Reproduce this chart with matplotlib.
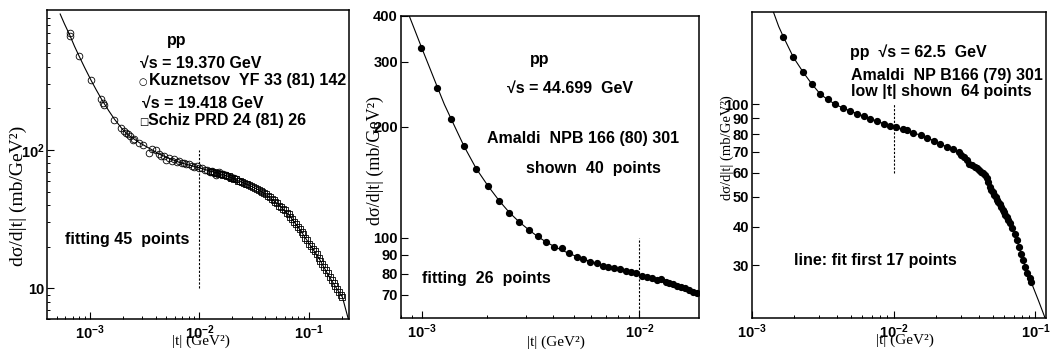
import numpy as np
import matplotlib
matplotlib.use("Agg")
import matplotlib.pyplot as plt
from matplotlib.ticker import LogLocator, NullFormatter, FixedLocator, FixedFormatter

plt.rcParams['font.family'] = ['Liberation Sans', 'DejaVu Sans']
plt.rcParams['mathtext.fontset'] = 'custom'
plt.rcParams['mathtext.rm'] = 'Liberation Sans:bold'
plt.rcParams['mathtext.bf'] = 'Liberation Sans:bold'
plt.rcParams['mathtext.it'] = 'Liberation Sans:bold'

# ---- panel 1 : sqrt(s) = 19.4 GeV ----
kuz_t = [6.6e-4, 6.7e-4, 8.0e-4, 1.03e-3, 1.27e-3, 1.33e-3, 1.36e-3, 1.66e-3, 1.95e-3, 2.05e-3,
         2.15e-3, 2.25e-3, 2.35e-3, 2.48e-3, 2.55e-3, 2.8e-3, 3.05e-3, 3.5e-3, 3.7e-3, 4.05e-3,
         4.3e-3, 4.5e-3, 4.8e-3, 5.0e-3, 5.3e-3, 5.6e-3, 5.9e-3, 6.2e-3, 6.5e-3, 6.9e-3,
         7.3e-3, 7.6e-3, 8.0e-3, 8.5e-3, 9.0e-3, 9.5e-3, 0.0100, 0.0106, 0.0112, 0.0118,
         0.0124, 0.0130, 0.0137, 0.0142, 0.0150, 0.0158, 0.0166, 0.0175, 0.0185, 0.0195,
         0.0205, 0.0218, 0.0230, 0.0245]
kuz_y = [705, 665, 480, 321, 233, 218, 212, 166, 145, 138,
         134, 131, 126, 118, 120, 112, 109, 95, 102, 100,
         94, 90, 91, 85, 88, 84, 86, 82, 83, 80,
         81, 79, 79, 77, 76, 77, 74, 74, 72, 72,
         70, 71, 68, 66, 69, 67, 67, 66, 64, 64,
         63, 62, 60, 59]
schiz_t = [0.0125, 0.0130, 0.0135, 0.0141, 0.0146, 0.0152, 0.0158, 0.0165, 0.0171, 0.0178,
           0.0185, 0.0193, 0.0200, 0.0208, 0.0217, 0.0225, 0.0234, 0.0244, 0.0253, 0.0264,
           0.0274, 0.0285, 0.0297, 0.0309, 0.0321, 0.0334, 0.0347, 0.0361, 0.0375, 0.0390,
           0.0406, 0.0422, 0.0439, 0.0457, 0.0475, 0.0494, 0.0514, 0.0534, 0.0556, 0.0578,
           0.0601, 0.0625, 0.0650, 0.0676, 0.0703, 0.0731, 0.0760, 0.0791, 0.0822, 0.0855,
           0.0889, 0.0925, 0.0962, 0.1000, 0.104, 0.108, 0.112, 0.117, 0.122, 0.127,
           0.132, 0.137, 0.143, 0.148, 0.154, 0.160, 0.167, 0.173, 0.180, 0.187,
           0.194, 0.201]
schiz_y = [70.9, 69.8, 69.6, 68.6, 68.5, 67.5, 67.3, 66.0, 65.9, 64.8,
           64.5, 63.2, 62.9, 61.8, 61.3, 60.0, 59.6, 58.4, 58.0, 56.8,
           56.5, 55.5, 55.2, 54.0, 53.6, 52.2, 51.8, 50.4, 50.0, 48.7,
           48.1, 46.5, 45.7, 44.3, 43.6, 42.1, 41.2, 39.7, 39.0, 37.3,
           36.7, 35.0, 34.4, 32.8, 31.8, 30.1, 29.4, 27.7, 26.9, 25.4,
           24.6, 23.0, 22.3, 21.0, 20.3, 19.4, 18.6, 17.6, 16.7, 15.8,
           15.0, 14.3, 13.5, 12.9, 12.1, 11.5, 10.9, 10.4, 9.9, 9.4,
           9.0, 8.65]
fit1_t = [5.4e-4, 5.9e-4, 6.6e-4, 7.3e-4, 8.0e-4, 9.0e-4, 1.03e-3, 1.15e-3, 1.3e-3, 1.5e-3,
          1.69e-3, 2.0e-3, 2.3e-3, 2.85e-3, 3.51e-3, 4.33e-3, 5.34e-3, 6.58e-3, 8.1e-3, 0.01,
          0.0123, 0.0152, 0.0187, 0.0231, 0.0285, 0.0351, 0.0433, 0.0534, 0.0658, 0.0811,
          0.1, 0.123, 0.152, 0.175, 0.201, 0.2275]
fit1_y = [965, 821, 680, 563, 482, 397, 321, 273, 230, 192,
          167, 141, 127, 113, 103, 93.5, 87, 81.5, 77.9, 74.5,
          70.8, 67.8, 64.1, 59.6, 55.7, 51.3, 45.9, 39.9, 33.8, 27.1,
          21.1, 16.5, 12.2, 10.2, 8.65, 6.0]

# ---- panel 2 : sqrt(s) = 44.699 GeV ----
am44_t = [9.93e-4, 1.18e-3, 1.365e-3, 1.565e-3, 1.78e-3, 2.02e-3, 2.27e-3, 2.53e-3, 2.81e-3, 3.11e-3,
          3.41e-3, 3.72e-3, 4.05e-3, 4.40e-3, 4.75e-3, 5.15e-3, 5.53e-3, 5.93e-3, 6.37e-3, 6.79e-3,
          7.2e-3, 7.68e-3, 8.15e-3, 8.66e-3, 9.16e-3, 9.66e-3, 0.01026, 0.0108, 0.0114, 0.0120,
          0.01259, 0.0132, 0.01375, 0.01434, 0.01495, 0.0156, 0.01627, 0.01698, 0.0177, 0.01846]
am44_y = [327, 255, 209.8, 177, 153.8, 138, 125.7, 116.4, 110.5, 104.9,
          101.1, 97.2, 94.5, 93.6, 91.0, 88.8, 87.6, 86.1, 85.2, 83.9,
          83.4, 82.9, 82.1, 81.3, 80.6, 80.1, 78.9, 78.4, 77.6, 76.8,
          77.1, 76.0, 75.2, 74.8, 74.1, 73.6, 72.9, 72.2, 71.4, 70.7]
fit2_t = [8.68e-4, 9.3e-4, 1.0e-3, 1.09e-3, 1.18e-3, 1.27e-3, 1.365e-3, 1.565e-3, 1.78e-3, 2.02e-3,
          2.27e-3, 2.53e-3, 2.81e-3, 3.11e-3, 3.41e-3, 3.72e-3, 4.05e-3, 4.40e-3, 4.75e-3, 5.15e-3,
          5.53e-3, 5.93e-3, 6.37e-3, 6.79e-3, 7.2e-3, 7.68e-3, 8.15e-3, 8.66e-3, 9.16e-3, 9.66e-3,
          0.0108, 0.0120, 0.0132, 0.0144, 0.0156, 0.0170, 0.0189]
fit2_y = [405, 365, 327, 288, 256, 230, 210, 177, 154, 138,
          126, 117, 110.3, 105.0, 100.8, 97.5, 94.8, 92.6, 90.7, 89.0,
          87.6, 86.3, 85.1, 84.1, 83.3, 82.5, 81.7, 81.0, 80.3, 79.7,
          78.3, 77.0, 75.8, 74.6, 73.5, 72.2, 70.4]

# ---- panel 3 : sqrt(s) = 62.5 GeV ----
am62_t = [1.67e-3, 1.97e-3, 2.31e-3, 2.65e-3, 3.04e-3, 3.44e-3, 3.88e-3, 4.39e-3, 4.95e-3, 5.51e-3,
          6.14e-3, 6.84e-3, 7.63e-3, 8.5e-3, 9.37e-3, 0.0104, 0.0116, 0.0125, 0.0138, 0.0155,
          0.0172, 0.0192, 0.0214, 0.0238, 0.0264, 0.0288, 0.0300, 0.0313, 0.0327, 0.0342,
          0.0357, 0.0372, 0.0388, 0.0400, 0.0414, 0.0427, 0.0440, 0.0452, 0.0464, 0.0475,
          0.0487, 0.0498, 0.0510, 0.0523, 0.0535, 0.0546, 0.0559, 0.0572, 0.0586, 0.0600,
          0.0614, 0.0628, 0.0643, 0.0658, 0.0685, 0.0714, 0.0738, 0.0764, 0.0790, 0.0819,
          0.0848, 0.0878, 0.0910, 0.0936]
am62_y = [166, 142.4, 127.3, 116.7, 108.3, 104.0, 100.0, 97.5, 95.1, 93.3,
          91.4, 89.8, 88.3, 86.5, 84.8, 84.4, 83.1, 82.3, 80.7, 79.3,
          77.9, 76.0, 74.5, 72.7, 71.3, 70.0, 68.6, 67.4, 66.0, 64.2,
          63.4, 62.6, 61.9, 61.1, 60.4, 59.8, 58.8, 57.4, 55.8, 53.9,
          52.8, 51.9, 50.9, 50.0, 49.0, 48.2, 47.3, 46.4, 45.5, 44.7,
          43.8, 43.0, 42.1, 41.2, 39.5, 38.0, 36.2, 34.4, 32.7, 31.2,
          29.6, 28.3, 27.2, 26.5]
fit3_t = [1.42e-3, 1.55e-3, 1.67e-3, 1.82e-3, 1.97e-3, 2.31e-3, 2.65e-3, 3.04e-3, 3.44e-3, 3.88e-3,
          4.39e-3, 4.95e-3, 5.51e-3, 6.14e-3, 6.84e-3, 7.63e-3, 8.5e-3, 9.37e-3, 0.0104, 0.0116,
          0.0125, 0.0138, 0.0155, 0.0172, 0.0192, 0.0214, 0.0238, 0.0264, 0.0288, 0.0313,
          0.0342, 0.0372, 0.0400, 0.0427, 0.0452, 0.0475, 0.0498, 0.0523, 0.0546, 0.0572,
          0.0600, 0.0628, 0.0658, 0.0685, 0.0714, 0.0738, 0.0764, 0.0790, 0.0819, 0.0848,
          0.0878, 0.0910, 0.0936, 0.105, 0.1178]
fit3_y = [200, 179, 166, 153, 142, 127, 116.5, 108, 103.5, 100,
          97.3, 95.1, 93.3, 91.5, 89.8, 88.2, 86.5, 85.0, 84.0, 82.9,
          82.1, 80.8, 79.3, 77.8, 76.1, 74.4, 72.6, 71.0, 69.6, 67.6,
          64.8, 62.6, 61.0, 59.5, 57.3, 54.3, 52.0, 50.0, 48.2, 46.4,
          44.6, 43.0, 41.2, 39.6, 38.0, 36.3, 34.5, 32.8, 31.2, 29.7,
          28.4, 27.2, 26.3, 23.0, 20.0]

cut_t = 0.01
tlabel = '|t| (GeV²)'
ylab = 'dσ/d|t| (mb/GeV²)'

fig = plt.figure(figsize=(10.5, 3.51), dpi=100)
ax1 = fig.add_axes([0.0448, 0.0912, 0.2876, 0.880])
ax2 = fig.add_axes([0.3816, 0.0932, 0.2841, 0.862])
ax3 = fig.add_axes([0.7159, 0.094, 0.2800, 0.8727])

serif = ['Liberation Serif', 'DejaVu Serif']
fs = 11.5


def style(ax, xlim, ylim, xmaj, xlabs, ymaj, ylabs, yminor):
    ax.set_xscale('log')
    ax.set_yscale('log')
    ax.set_xlim(*xlim)
    ax.set_ylim(*ylim)
    ax.xaxis.set_major_locator(FixedLocator(xmaj))
    ax.xaxis.set_major_formatter(FixedFormatter(xlabs))
    ax.xaxis.set_minor_locator(LogLocator(base=10, subs=np.arange(2, 10)))
    ax.xaxis.set_minor_formatter(NullFormatter())
    ax.yaxis.set_major_locator(FixedLocator(ymaj))
    ax.yaxis.set_major_formatter(FixedFormatter(ylabs))
    if yminor:
        ax.yaxis.set_minor_locator(LogLocator(base=10, subs=np.arange(2, 10)))
    else:
        ax.yaxis.set_minor_locator(FixedLocator([]))
    ax.yaxis.set_minor_formatter(NullFormatter())
    ax.tick_params(which='major', direction='in', length=5, width=0.8,
                   labelsize=10.5, top=False, right=False)
    ax.tick_params(which='minor', direction='in', length=2.5, width=0.7,
                   top=False, right=False)
    ax.tick_params(axis='x', pad=3)
    ax.tick_params(axis='y', pad=2)
    for lab in ax.get_xticklabels() + ax.get_yticklabels():
        lab.set_fontweight('bold')
    for sp in ax.spines.values():
        sp.set_linewidth(1.1)


# panel 1
ax1.plot(fit1_t, fit1_y, color='black', lw=0.8)
ax1.plot(kuz_t, kuz_y, 'o', mfc='none', mec='black', ms=4.8, mew=0.6)
ax1.plot(schiz_t, schiz_y, 's', mfc='none', mec='black', ms=4.2, mew=0.6)
ax1.plot([cut_t, cut_t], [10, 100], color='black', lw=0.8, ls=(0, (2, 1.5)))
style(ax1, (4.1e-4, 0.231), (6.0, 1030), [1e-3, 1e-2, 1e-1],
      ['$10^{-3}$', '$10^{-2}$', '$10^{-1}$'], [10, 100], ['10', '$10^{2}$'], True)
tk = dict(transform=ax1.transAxes, fontsize=fs, fontweight='bold', va='center')
ax1.text(0.396, 0.903, 'pp', **tk)
ax1.text(0.308, 0.827, '√s = 19.370 GeV', **tk)
ax1.text(0.303, 0.768, '○', transform=ax1.transAxes, fontsize=7, va='center',
         family='DejaVu Sans')
ax1.text(0.338, 0.773, 'Kuznetsov  YF 33 (81) 142', **tk)
ax1.text(0.313, 0.698, '√s = 19.418 GeV', **tk)
ax1.text(0.306, 0.638, '□', transform=ax1.transAxes, fontsize=7, va='center',
         family='DejaVu Sans')
ax1.text(0.333, 0.642, 'Schiz PRD 24 (81) 26', **tk)
ax1.text(0.06, 0.256, 'fitting 45  points', **tk)
ax1.text(0.51, -0.072, tlabel, transform=ax1.transAxes, fontsize=11, ha='center',
         va='center', family=serif)
ax1.text(-0.094, 0.40, ylab, transform=ax1.transAxes, fontsize=14, rotation=90,
         ha='center', va='center', family=serif)

# panel 2
ax2.plot(fit2_t, fit2_y, color='black', lw=0.8)
ax2.plot(am44_t, am44_y, 'o', color='black', ms=4.2)
ax2.plot([cut_t, cut_t], [60, 100], color='black', lw=0.8, ls=(0, (2, 1.5)))
style(ax2, (8.0e-4, 0.0188), (60.5, 400), [1e-3, 1e-2],
      ['$10^{-3}$', '$10^{-2}$'], [70, 80, 90, 100, 200, 300, 400],
      ['70', '80', '90', '100', '200', '300', '400'], False)
tk = dict(transform=ax2.transAxes, fontsize=fs, fontweight='bold', va='center')
ax2.text(0.433, 0.854, 'pp', **tk)
ax2.text(0.355, 0.760, '√s = 44.699  GeV', **tk)
ax2.text(0.290, 0.595, 'Amaldi  NPB 166 (80) 301', **tk)
ax2.text(0.419, 0.496, 'shown  40  points', **tk)
ax2.text(0.070, 0.132, 'fitting  26  points', **tk)
ax2.text(0.52, -0.079, tlabel, transform=ax2.transAxes, fontsize=11, ha='center',
         va='center', family=serif)
ax2.text(-0.086, 0.52, ylab, transform=ax2.transAxes, fontsize=13, rotation=90,
         ha='center', va='center', family=serif)

# panel 3
ax3.plot(fit3_t, fit3_y, color='black', lw=0.8)
ax3.plot(am62_t, am62_y, 'o', color='black', ms=4.2)
ax3.plot([cut_t, cut_t], [60, 100], color='black', lw=0.8, ls=(0, (2, 1.5)))
style(ax3, (1.0e-3, 0.118), (20.2, 200), [1e-3, 1e-2, 1e-1],
      ['$10^{-3}$', '$10^{-2}$', '$10^{-1}$'], [30, 40, 50, 60, 70, 80, 90, 100],
      ['30', '40', '50', '60', '70', '80', '90', '100'], False)
tk = dict(transform=ax3.transAxes, fontsize=fs, fontweight='bold', va='center')
ax3.text(0.333, 0.869, 'pp  √s = 62.5  GeV', **tk)
ax3.text(0.339, 0.793, 'Amaldi  NP B166 (79) 301', **tk)
ax3.text(0.339, 0.740, 'low |t| shown  64 points', **tk)
ax3.text(0.144, 0.189, 'line: fit first 17 points', **tk)
ax3.text(0.52, -0.074, tlabel, transform=ax3.transAxes, fontsize=11, ha='center',
         va='center', family=serif)
ax3.text(-0.084, 0.555, ylab, transform=ax3.transAxes, fontsize=10.5, rotation=90,
         ha='center', va='center', family=serif)

fig.savefig('out.png', dpi=100)
